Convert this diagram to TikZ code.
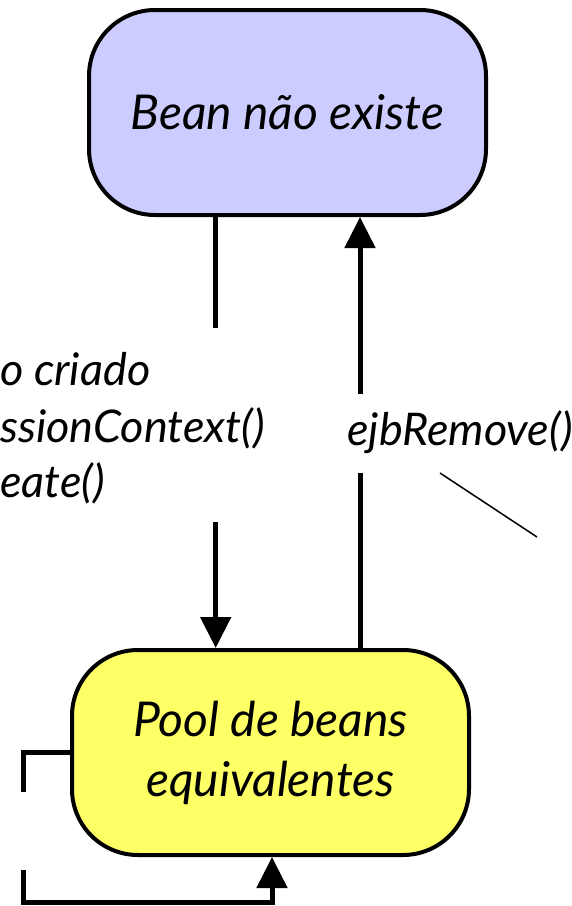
\documentclass[tikz,border=0pt]{standalone}
\usepackage{fontspec}
\setmainfont{Lato}
\usetikzlibrary{arrows.meta}
\definecolor{boxblue}{HTML}{CCCCFF}
\definecolor{boxyellow}{HTML}{FFFF66}
\tikzset{
 state/.style={draw=black, line width=4pt, rounded corners=66pt, minimum width=397pt, minimum height=205pt, inner sep=0pt, align=center, font=\fontsize{48}{60}\selectfont\itshape},
 conn/.style={line width=5pt},
 arr/.style={conn, -{Triangle[width=30pt,length=31pt]}},
 lbl/.style={font=\fontsize{45}{56}\selectfont\itshape, inner sep=0pt},
 thin/.style={line width=1.5pt},
}
\begin{document}
\begin{tikzpicture}[x=1pt,y=-1pt]
\useasboundingbox (0,0) rectangle (572,906);
\node[state, fill=boxblue] (top) at (287.5,112.5) {Bean não existe};
\node[state, fill=boxyellow] (pool) at (270.5,752.5) {Pool de beans\\equivalentes};
\coordinate (l1) at (215.7,328);
\coordinate (l2) at (215.7,522);
\draw[conn] (top.south -| l1) -- (l1);
\draw[arr] (l2) -- (l2 |- pool.north);
\coordinate (r1) at (360,473);
\coordinate (r2) at (360,394);
\draw[conn] (pool.north -| r1) -- (r1);
\draw[arr] (r2) -- (r2 |- top.south);
\coordinate (a1) at (23,792);
\coordinate (a2) at (23,870);
\coordinate (a3) at (272,902);
\draw[conn] (pool.west) -| (a1);
\draw[arr] (a2) |- (a3) -- (a3 |- pool.south);
\coordinate (d1) at (440,473);
\coordinate (d2) at (537,537);
\draw[thin] (d1) -- (d2);
\node[lbl, anchor=base west] (c1) at (0,385) {o criado};
\node[lbl, anchor=base west] (c2) at (0,442) {ssionContext()};
\node[lbl, anchor=base west] (c3) at (0,497) {eate()};
\node[lbl, anchor=base west] (rm) at (347,445) {ejbRemove()};
\end{tikzpicture}
\end{document}
